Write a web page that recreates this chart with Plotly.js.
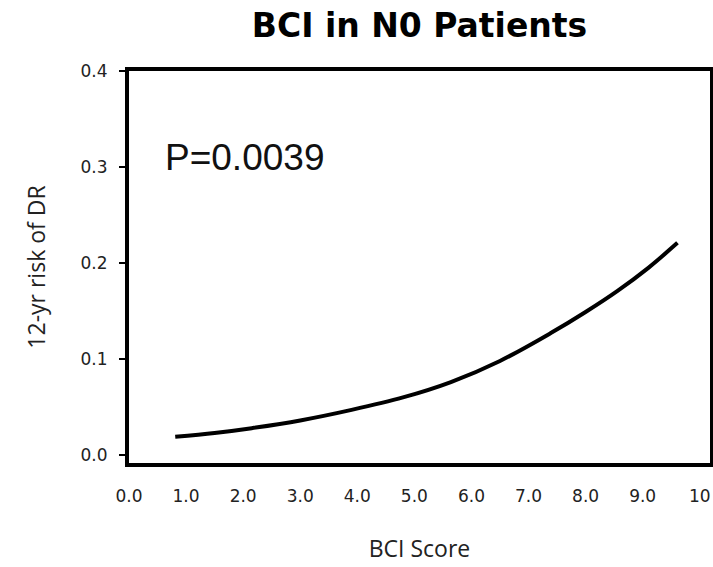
<!DOCTYPE html>
<html>
<head>
<meta charset="utf-8">
<script src="https://cdn.plot.ly/plotly-3.0.1.min.js"></script>
<style>html,body{margin:0;padding:0;background:#fff;}#chart{width:713px;height:567px;}</style>
</head>
<body>
<div id="chart"></div>
<script>
var bciScore = [0.81, 1.5, 2.15, 3.0, 3.9, 4.8, 5.64, 6.5, 7.39, 8.0, 8.56, 9.1, 9.61];
var riskDR   = [0.019, 0.023, 0.028, 0.036, 0.047, 0.060, 0.076, 0.098, 0.127, 0.149, 0.171, 0.195, 0.221];
var xTickVals = [0, 1, 2, 3, 4, 5, 6, 7, 8, 9, 10];
var xTickText = ["0.0", "1.0", "2.0", "3.0", "4.0", "5.0", "6.0", "7.0", "8.0", "9.0", "10"];
var yTickVals = [0, 0.1, 0.2, 0.3, 0.4];
var yTickText = ["0.0", "0.1", "0.2", "0.3", "0.4"];
var pLabel = "P=0.0039";

var trace = {
  x: bciScore, y: riskDR, type: 'scatter', mode: 'lines',
  line: {color: '#000', width: 4, shape: 'spline', smoothing: 1},
  hoverinfo: 'none'
};
var layout = {
  width: 713, height: 567,
  margin: {l: 129, r: 3, t: 71, b: 104},
  paper_bgcolor: '#fff', plot_bgcolor: '#fff',
  showlegend: false,
  title: {text: '<b>BCI in N0 Patients</b>', x: 0.5, xref: 'paper', y: 0.955, yanchor: 'middle',
          font: {family: 'DejaVu Sans', size: 33, color: '#000'}},
  xaxis: {
    range: [0, 10.18], tickvals: xTickVals, ticktext: xTickText,
    showgrid: false, zeroline: false, showline: true, mirror: true,
    linecolor: '#000', linewidth: 4, ticks: '', ticklabelstandoff: 15,
    tickfont: {family: 'DejaVu Sans', size: 17, color: '#222'},
    title: {text: 'BCI Score', standoff: 36, font: {family: 'Open Sans', size: 23, color: '#222'}}
  },
  yaxis: {
    range: [-0.0083, 0.4], tickvals: yTickVals, ticktext: yTickText,
    showgrid: false, zeroline: false, showline: true, mirror: true,
    linecolor: '#000', linewidth: 4, ticks: 'outside', ticklen: 6, tickwidth: 2, tickcolor: '#000',
    ticklabelstandoff: 8,
    tickfont: {family: 'DejaVu Sans', size: 17, color: '#222'},
    title: {text: '12-yr risk of DR', standoff: 30, font: {family: 'Open Sans', size: 23, color: '#222'}}
  },
  annotations: [{
    text: pLabel, x: 0.6, y: 0.31, xref: 'x', yref: 'y', xanchor: 'left', yanchor: 'middle',
    showarrow: false, font: {family: 'Liberation Sans', size: 37, color: '#111'}
  }]
};
Plotly.newPlot('chart', [trace], layout, {displayModeBar: false, staticPlot: true});
</script>
</body>
</html>
